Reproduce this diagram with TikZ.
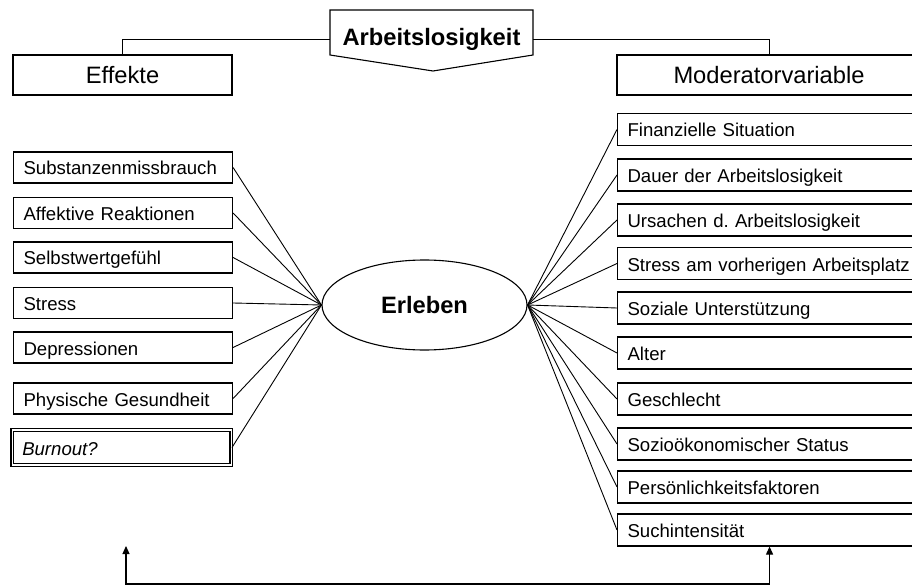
\documentclass[tikz,border=0pt]{standalone}
\usepackage{fontspec}
\setmainfont{Liberation Sans}
\usepackage{tikz}
\usetikzlibrary{shapes.geometric, arrows.meta}
\frenchspacing

\begin{document}
\begin{tikzpicture}[x=1pt, y=-1pt,
            item/.style={shape=rectangle, draw=black, line width=1.1pt, anchor=west, minimum height=31pt, inner xsep=10pt, text width=199pt, text height=18pt, text depth=3pt, align=left, font=\fontsize{18.6}{22}\selectfont},
            ritem/.style={item, minimum height=32pt, text width=284pt},
            head/.style={shape=rectangle, draw=black, line width=1.1pt, minimum height=40pt, font=\fontsize{23.7}{28}\selectfont},
            link/.style={line width=0.9pt}]
            \useasboundingbox (0,0) rectangle (912,585);

            % top
            \draw[line width=1.1pt] (330,10) -- (533,10) -- (533,55) -- (433,71) -- (330,55) -- cycle;
            \node[font=\bfseries\fontsize{23.7}{28}\selectfont, minimum width=203pt, inner sep=0pt] (title) at (431.5,39) {Arbeitslosigkeit};
            \node[head, minimum width=219pt] (effekte) at (122.5,75) {Effekte};
            \node[head, minimum width=304pt] (moderator) at (769,75) {Moderatorvariable};
            \draw[link] (title.west) -| (effekte.north);
            \draw[link] (title.east) -| (moderator.north);

            \node[shape=ellipse, draw=black, line width=1.1pt, minimum width=205pt, minimum height=90pt, inner sep=0pt, text height=17pt, text depth=0pt, yshift=-3pt, font=\bfseries\fontsize{23.7}{28}\selectfont] (erleben) at (424.5,302) {Erleben};

            % Effekte
            \node[item] (sub) at (13,167.5) {Substanzenmissbrauch};
            \node[item] (aff) at (13,213) {Affektive Reaktionen};
            \node[item] (selbst) at (13,257.5) {Selbstwertgefühl};
            \node[item] (stress) at (13,303) {Stress};
            \node[item] (depr) at (13,347.5) {Depressionen};
            \node[item] (phys) at (13,398.5) {Physische Gesundheit};
            \node[item, minimum height=35pt, line width=1.5pt, double=white, double distance=1.2pt] (burn) at (11.5,447.5) {\itshape Burnout?};

            \path[link] (sub.east) edge (erleben.west);
            \path[link] (aff.east) edge (erleben.west);
            \path[link] (selbst.east) edge (erleben.west);
            \path[link] (stress.east) edge (erleben.west);
            \path[link] (depr.east) edge (erleben.west);
            \path[link] (phys.east) edge (erleben.west);
            \path[link] (burn.east) edge (erleben.west);

            % Moderatorvariable
            \node[ritem] (fin) at (617,129.5) {Finanzielle Situation};
            \node[ritem] (dauer) at (617,175) {Dauer der Arbeitslosigkeit};
            \node[ritem] (urs) at (617,220) {Ursachen d. Arbeitslosigkeit};
            \node[ritem] (vorher) at (617,263.5) {Stress am vorherigen Arbeitsplatz};
            \node[ritem] (sozial) at (617,308) {Soziale Unterstützung};
            \node[ritem] (alter) at (617,353) {Alter};
            \node[ritem] (geschl) at (617,399) {Geschlecht};
            \node[ritem] (status) at (617,444) {Sozioökonomischer Status};
            \node[ritem] (pers) at (617,487) {Persönlichkeitsfaktoren};
            \node[ritem] (such) at (617,530) {Suchintensität};

            \path[link] (erleben.east) edge (fin.west);
            \path[link] (erleben.east) edge (dauer.west);
            \path[link] (erleben.east) edge (urs.west);
            \path[link] (erleben.east) edge (vorher.west);
            \path[link] (erleben.east) edge (sozial.west);
            \path[link] (erleben.east) edge (alter.west);
            \path[link] (erleben.east) edge (geschl.west);
            \path[link] (erleben.east) edge (status.west);
            \path[link] (erleben.east) edge (pers.west);
            \path[link] (erleben.east) edge (such.west);

            % Rueckkopplung
            \coordinate (back) at (126,546);
            \draw[line width=1.1pt, {Triangle[length=8pt,width=7pt]}-{Triangle[length=8pt,width=7pt]}] (back) -- ++(0,38) -| (such.south);
            
        \end{tikzpicture}
\end{document}
